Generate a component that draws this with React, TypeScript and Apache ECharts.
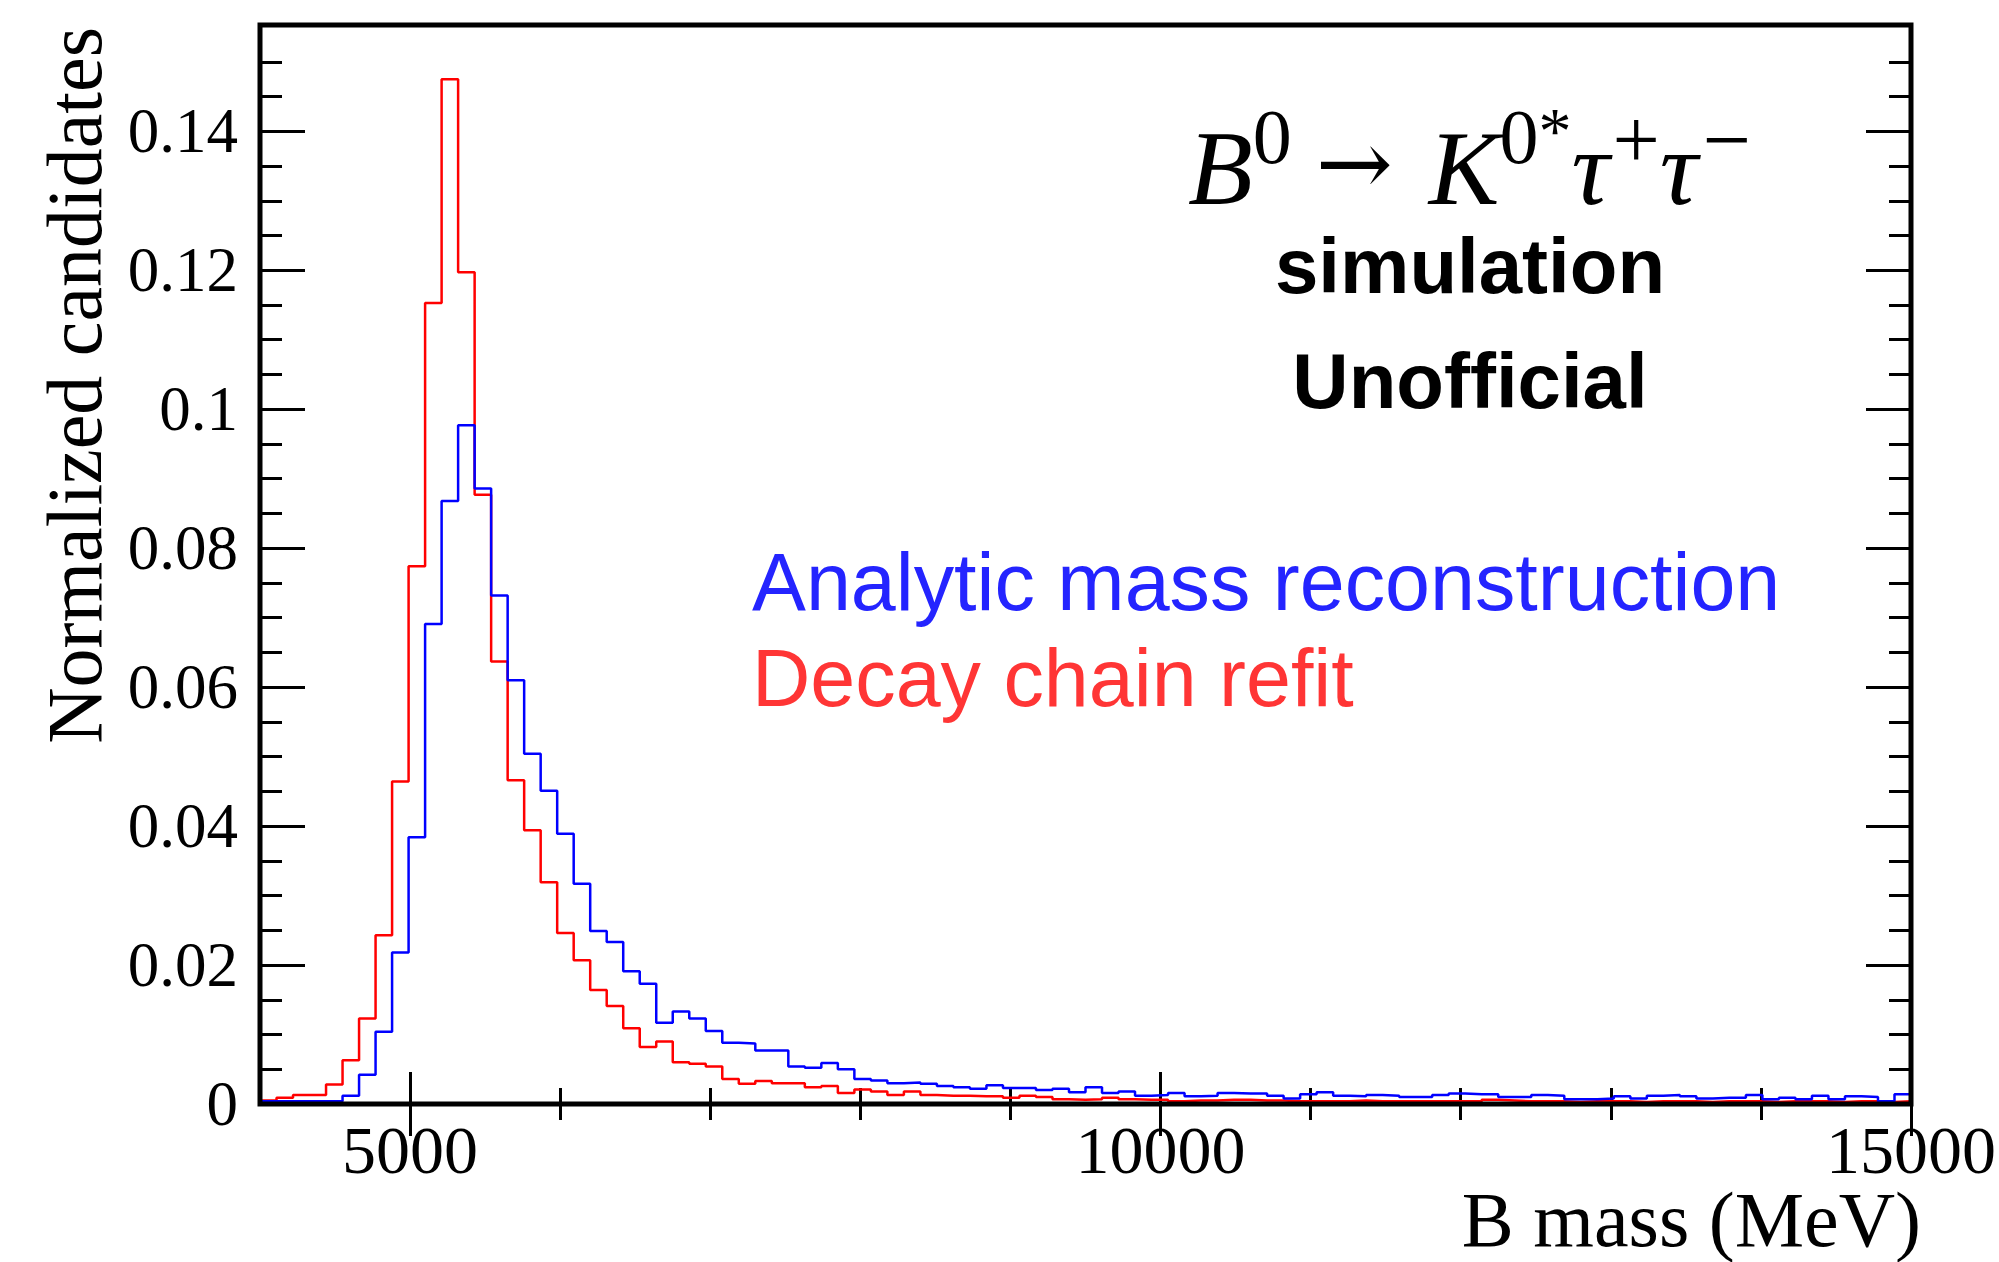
import React, { useEffect, useRef } from "react";
import * as echarts from "echarts";

// Histogram binning (MeV)
const binStart = 4000;
const binWidth = 110;

// Analytic mass reconstruction (blue), 100 bins from 4000 to 15000 MeV
const analyticValues = [
  0.0004, 0.0004, 0.0004, 0.0004, 0.0004, 0.0012, 0.0042, 0.0104, 0.0218, 0.0384,
  0.0691, 0.0868, 0.0977, 0.0886, 0.0732, 0.061, 0.0504, 0.0451, 0.0389, 0.0317,
  0.0249, 0.0233, 0.0191, 0.0173, 0.0117, 0.0133, 0.0123, 0.0105, 0.0088, 0.0087,
  0.0077, 0.0077, 0.0054, 0.0052, 0.0059, 0.005, 0.0036, 0.0034, 0.003, 0.0031,
  0.0029, 0.0026, 0.0024, 0.0022, 0.0027, 0.0023, 0.0023, 0.002, 0.0022, 0.0017,
  0.0024, 0.0016, 0.0018, 0.0012, 0.0013, 0.0016, 0.0011, 0.0012, 0.0016, 0.0015,
  0.0015, 0.0012, 0.0008, 0.0014, 0.0017, 0.0012, 0.0011, 0.0013, 0.0012, 0.001,
  0.001, 0.0013, 0.0015, 0.0014, 0.0014, 0.001, 0.001, 0.0013, 0.0012, 0.0007,
  0.0007, 0.0008, 0.0011, 0.0008, 0.0012, 0.0013, 0.0011, 0.0008, 0.0009, 0.0009,
  0.0013, 0.0007, 0.0009, 0.0007, 0.0012, 0.0007, 0.0011, 0.001, 0.0004, 0.0014,
];

// Decay chain refit (red)
const refitValues = [
  0.0005, 0.0009, 0.0013, 0.0013, 0.0028, 0.0063, 0.0123, 0.0243, 0.0464, 0.0774,
  0.1153, 0.1475, 0.1197, 0.0877, 0.0637, 0.0466, 0.0394, 0.0319, 0.0246, 0.0207,
  0.0164, 0.0141, 0.0109, 0.0082, 0.009, 0.006, 0.0058, 0.0054, 0.0036, 0.0029,
  0.0033, 0.003, 0.003, 0.0024, 0.0026, 0.0016, 0.0021, 0.0018, 0.0013, 0.0018,
  0.0013, 0.0012, 0.0012, 0.0011, 0.0011, 0.0009, 0.0012, 0.001, 0.0007, 0.0006,
  0.0007, 0.0009, 0.0007, 0.0006, 0.0006, 0.0004, 0.0005, 0.0005, 0.0006, 0.0006,
  0.0005, 0.0005, 0.0004, 0.0004, 0.0004, 0.0004, 0.0005, 0.0004, 0.0004, 0.0004,
  0.0004, 0.0004, 0.0004, 0.0004, 0.0006, 0.0005, 0.0004, 0.0004, 0.0004, 0.0003,
  0.0004, 0.0004, 0.0004, 0.0003, 0.0004, 0.0004, 0.0004, 0.0003, 0.0004, 0.0004,
  0.0004, 0.0003, 0.0004, 0.0004, 0.0004, 0.0003, 0.0004, 0.0004, 0.0003, 0.0004,
];

const xMin = 4000;
const xMax = 15000;
const yMin = 0;
const yMax = 0.1553;

const xMajorTicks = [5000, 10000, 15000];
const xMinorTicks = [5000, 6000, 7000, 8000, 9000, 10000, 11000, 12000, 13000, 14000, 15000];
const yMajorTicks = [0, 0.02, 0.04, 0.06, 0.08, 0.1, 0.12, 0.14];
const yTickLabels = ["0", "0.02", "0.04", "0.06", "0.08", "0.1", "0.12", "0.14"];
const yMinorTicks = [
  0.005, 0.01, 0.015, 0.02, 0.025, 0.03, 0.035, 0.04, 0.045, 0.05, 0.055, 0.06, 0.065,
  0.07, 0.075, 0.08, 0.085, 0.09, 0.095, 0.1, 0.105, 0.11, 0.115, 0.12, 0.125, 0.13,
  0.135, 0.14, 0.145, 0.15,
];

const xTitle = "B mass (MeV)";
const yTitle = "Normalized candidates";
const legendLabels = ["Analytic mass reconstruction", "Decay chain refit"];
const statusLabels = ["simulation", "Unofficial"];
// B0 -> K0* tau+ tau-  (b: italic base, s: superscript digit, t: asterisk, p/m: charge signs, a: arrow)
const formulaText = "{b|B}{s|0}{a|\u2192}{b|K}{s|0}{t|*}{b|\u03C4}{p|+}{b|\u03C4}{m|\u2212}";

const SERIF = "'Liberation Serif', 'Times New Roman', 'DejaVu Serif', serif";
const SANS = "'Liberation Sans', Arial, Helvetica, sans-serif";
const ARROW_FONT = "'DejaVu Serif', 'DejaVu Sans', serif";

function stepOutline(values: number[]): number[][] {
  const pts: number[][] = [];
  values.forEach((v, i) => {
    const x0 = binStart + i * binWidth;
    pts.push([x0, v], [x0 + binWidth, v]);
  });
  return pts;
}

function labelFor(v: number): string {
  const i = yMajorTicks.findIndex((t) => Math.abs(t - v) < 1e-9);
  return i >= 0 ? yTickLabels[i] : "";
}

// with verticalAlign "middle" the central baseline sits ~0.34em above the alphabetic baseline
function txt(
  text: string,
  x: number,
  baseline: number,
  size: number,
  family: string,
  opts: { align?: string; italic?: boolean; bold?: boolean; fill?: string; rotation?: number; k?: number } = {}
) {
  const k = opts.k ?? 0.3375;
  const align = opts.align ?? "left";
  return {
    type: "text",
    x,
    y: opts.rotation ? baseline : baseline - k * size,
    rotation: opts.rotation ?? 0,
    silent: true,
    z: 100,
    style: {
      text,
      fill: opts.fill ?? "#000",
      fontSize: size,
      fontFamily: family,
      fontStyle: opts.italic ? "italic" : "normal",
      fontWeight: opts.bold ? "bold" : "normal",
      align,
      textAlign: align,
      verticalAlign: "middle",
      textVerticalAlign: "middle",
    },
  };
}

export default function App() {
  const ref = useRef<HTMLDivElement>(null);

  useEffect(() => {
    if (!ref.current) return;
    const chart = echarts.init(ref.current, undefined, { renderer: "svg" });

    const tickStyle = { color: "#000", width: 3 };
    const baseX = {
      type: "value",
      min: xMin,
      max: xMax,
      gridIndex: 0,
      axisLine: { show: false },
      splitLine: { show: false },
    };
    const baseY = {
      type: "value",
      min: yMin,
      max: yMax,
      gridIndex: 0,
      axisLine: { show: false },
      splitLine: { show: false },
    };

    const option: any = {
      animation: false,
      backgroundColor: "#fff",
      grid: {
        left: 260,
        right: 84,
        top: 25,
        bottom: 158,
        show: true,
        borderColor: "#000",
        borderWidth: 5,
        backgroundColor: "transparent",
        z: 10,
      },
      xAxis: [
        {
          ...baseX,
          position: "bottom",
          axisTick: { show: true, inside: true, length: 32, lineStyle: tickStyle, customValues: xMajorTicks },
          axisLabel: {
            show: true,
            customValues: xMajorTicks,
            margin: 12,
            color: "#000",
            fontFamily: SERIF,
            fontSize: 68,
            formatter: (v: number) => String(v),
          },
        },
        {
          ...baseX,
          position: "bottom",
          axisTick: { show: true, inside: true, length: 16, lineStyle: tickStyle, customValues: xMinorTicks },
          axisLabel: { show: false },
        },
        {
          ...baseX,
          position: "top",
          axisTick: { show: true, inside: true, length: 32, lineStyle: tickStyle, customValues: xMajorTicks },
          axisLabel: { show: false },
        },
        {
          ...baseX,
          position: "top",
          axisTick: { show: true, inside: true, length: 16, lineStyle: tickStyle, customValues: xMinorTicks },
          axisLabel: { show: false },
        },
      ],
      yAxis: [
        {
          ...baseY,
          position: "left",
          axisTick: { show: true, inside: true, length: 45, lineStyle: tickStyle, customValues: yMajorTicks },
          axisLabel: {
            show: true,
            customValues: yMajorTicks,
            margin: 22,
            color: "#000",
            fontFamily: SERIF,
            fontSize: 63,
            formatter: (v: number) => labelFor(v),
          },
        },
        {
          ...baseY,
          position: "left",
          axisTick: { show: true, inside: true, length: 22, lineStyle: tickStyle, customValues: yMinorTicks },
          axisLabel: { show: false },
        },
        {
          ...baseY,
          position: "right",
          axisTick: { show: true, inside: true, length: 45, lineStyle: tickStyle, customValues: yMajorTicks },
          axisLabel: { show: false },
        },
        {
          ...baseY,
          position: "right",
          axisTick: { show: true, inside: true, length: 22, lineStyle: tickStyle, customValues: yMinorTicks },
          axisLabel: { show: false },
        },
      ],
      series: [
        {
          name: legendLabels[0],
          type: "line",
          xAxisIndex: 0,
          yAxisIndex: 0,
          data: stepOutline(analyticValues),
          symbol: "none",
          showSymbol: false,
          silent: true,
          lineStyle: { color: "#0000ff", width: 2.5 },
          z: 3,
        },
        {
          name: legendLabels[1],
          type: "line",
          xAxisIndex: 0,
          yAxisIndex: 0,
          data: stepOutline(refitValues),
          symbol: "none",
          showSymbol: false,
          silent: true,
          lineStyle: { color: "#ff0000", width: 2.5 },
          z: 2,
        },
      ],
      graphic: {
        elements: [
          // axis titles
          txt(yTitle, 74, 27, 78, SERIF, { align: "right", rotation: Math.PI / 2 }),
          txt(xTitle, 1921, 1246, 78, SERIF, { align: "right" }),
          // decay formula as one rich text
          {
            type: "text",
            x: 1188,
            y: 97,
            silent: true,
            z: 100,
            style: {
              text: formulaText,
              fill: "#000",
              align: "left",
              textAlign: "left",
              verticalAlign: "top",
              textVerticalAlign: "top",
              rich: {
                b: {
                  fontFamily: SERIF,
                  fontStyle: "italic",
                  fontSize: 106,
                  lineHeight: 106,
                  verticalAlign: "top",
                  padding: [18, 0, 0, 0],
                  fill: "#000",
                },
                s: {
                  fontFamily: SERIF,
                  fontSize: 78,
                  lineHeight: 78,
                  verticalAlign: "top",
                  padding: [0, 0, 0, 0],
                  fill: "#000",
                },
                t: {
                  fontFamily: SERIF,
                  fontSize: 66,
                  lineHeight: 66,
                  verticalAlign: "top",
                  padding: [0, 0, 0, 0],
                  fill: "#000",
                },
                p: {
                  fontFamily: SERIF,
                  fontSize: 84,
                  lineHeight: 84,
                  verticalAlign: "top",
                  padding: [0, 0, 0, 3],
                  fill: "#000",
                },
                m: {
                  fontFamily: SERIF,
                  fontSize: 86,
                  lineHeight: 84,
                  verticalAlign: "top",
                  padding: [0, 0, 0, 5],
                  fill: "#000",
                },
                a: {
                  fontFamily: ARROW_FONT,
                  fontSize: 92,
                  lineHeight: 92,
                  verticalAlign: "top",
                  padding: [20, 36, 0, 24],
                  fill: "#000",
                },
              },
            },
          },
          // status
          txt(statusLabels[0], 1470, 293, 78, SANS, { align: "center", bold: true, k: 0.3465 }),
          txt(statusLabels[1], 1470, 408, 78, SANS, { align: "center", bold: true, k: 0.3465 }),
          // legend
          txt(legendLabels[0], 752, 610, 80.8, SANS, { fill: "#2424ff", k: 0.3465 }),
          txt(legendLabels[1], 752, 706, 80.8, SANS, { fill: "#ff3535", k: 0.3465 }),
        ],
      },
    };

    chart.setOption(option);
    return () => chart.dispose();
  }, []);

  return (
    <div
      ref={ref}
      style={{ position: "absolute", left: 0, top: 0, width: 1999, height: 1262, background: "#fff" }}
    />
  );
}
